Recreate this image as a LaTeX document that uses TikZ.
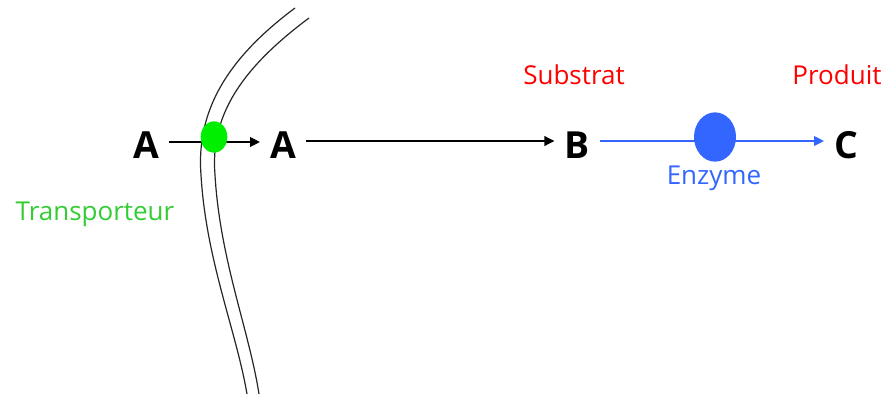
\documentclass[tikz,border=0pt]{standalone}
\usepackage{fontspec}
\setmainfont{Open Sans}
\usetikzlibrary{arrows.meta,shapes.geometric}
\definecolor{tgreen}{HTML}{33CC33}
\definecolor{cgreen}{HTML}{00EE00}
\definecolor{eblue}{HTML}{3366FF}
\definecolor{pred}{HTML}{FF0000}
\tikzset{
  letter/.style={font=\fontsize{28}{30}\selectfont\bfseries, inner sep=0pt, outer sep=7.5pt},
  lbl/.style={font=\fontsize{19.5}{22}\selectfont, inner sep=0pt},
  memb/.style={line width=0.9pt, black!85},
  arr/.style={line width=1.8pt, -{Triangle[length=7.5pt,width=7pt]}},
}
\begin{document}
\begin{tikzpicture}[x=0.75pt,y=-0.75pt]
\useasboundingbox (0,0) rectangle (884,396);
% membrane
\draw[memb] (295,8) .. controls (228,58) and (196,110) .. (201,175) .. controls (206,260) and (236,330) .. (247,394);
\draw[memb] (309,18) .. controls (242,68) and (210,115) .. (215,175) .. controls (220,260) and (249,330) .. (259,394);
% letters
\node[letter] (A1) at (146,145) {A};
\node[letter] (A2) at (283,145) {A};
\node[letter] (B) at (577,145) {B};
\node[letter] (C) at (846,145) {C};
% arrows
\draw[arr] (A1.east |- 0,142) -- (A2.west |- 0,142);
\draw[arr] (A2.east |- 0,141) -- (B.west |- 0,141);
\draw[arr, eblue] (B.east |- 0,141) -- (C.west |- 0,141);
% circles
\node[ellipse, fill=cgreen, minimum width=20pt, minimum height=23.5pt, inner sep=0pt] (trans) at (214,137) {};
\node[ellipse, fill=eblue, minimum width=31.5pt, minimum height=37pt, inner sep=0pt] (enz) at (715,137) {};
% labels
\node[lbl, text=tgreen] (tl) at (95,214) {Transporteur};
\node[lbl, text=pred] (sl) at (574,75) {Substrat};
\node[lbl, text=pred] (pl) at (837,75) {Produit};
\node[lbl, text=eblue] (el) at (714,178) {Enzyme};
\end{tikzpicture}
\end{document}
